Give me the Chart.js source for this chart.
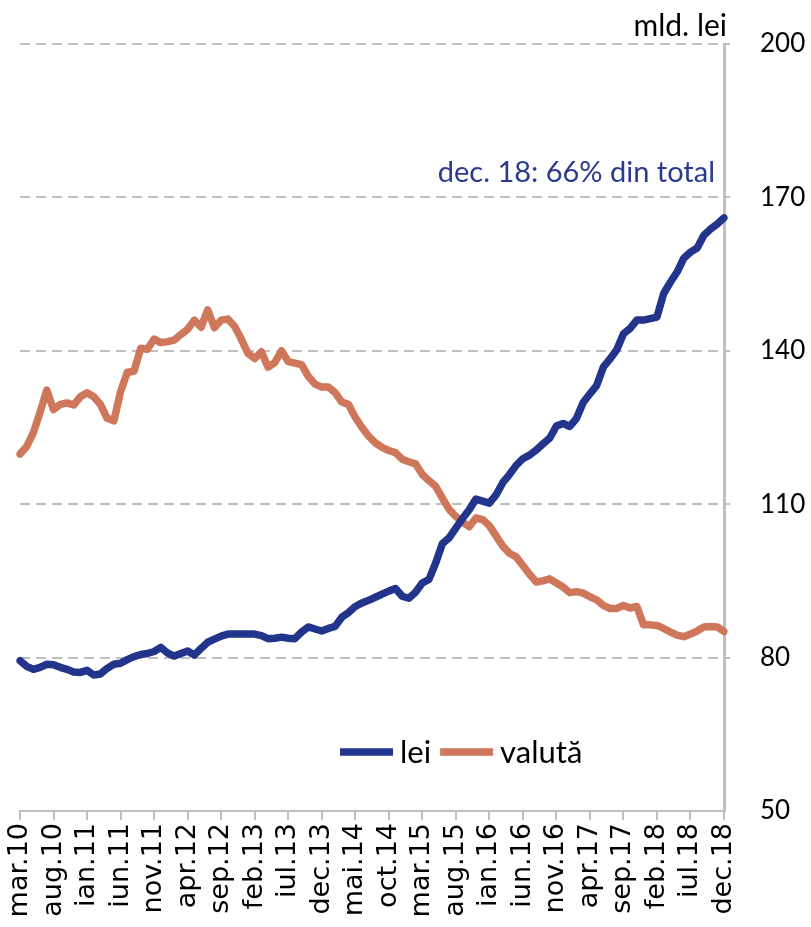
<!DOCTYPE html>
<html><head><meta charset="utf-8">
<script src="https://cdn.jsdelivr.net/npm/chart.js@4.4.1/dist/chart.umd.min.js"></script>
<style>html,body{margin:0;padding:0;background:#fff;} canvas{display:block;}</style>
</head><body>
<canvas id="c" width="811" height="927"></canvas>
<script>
const monthNames = ['ian','feb','mar','apr','mai','iun','iul','aug','sep','oct','nov','dec'];
const categories = [];
for (let y = 10; y <= 18; y++) {
  for (let m = 0; m < 12; m++) {
    if (y === 10 && m < 2) continue;
    categories.push(monthNames[m] + '.' + y);
  }
}
const lei = [79.4,78.3,77.7,78.1,78.7,78.6,78.1,77.7,77.2,77.1,
 77.5,76.6,76.8,77.9,78.7,78.9,79.6,80.2,80.6,80.8,
 81.2,82.0,80.9,80.3,80.8,81.3,80.5,81.8,83.0,83.6,
 84.2,84.6,84.6,84.6,84.6,84.6,84.3,83.7,83.8,84.0,
 83.8,83.7,85.0,86.0,85.6,85.2,85.7,86.1,87.9,88.8,
 90.0,90.7,91.2,91.8,92.4,93.0,93.5,92.0,91.6,92.8,
 94.6,95.3,98.5,102.3,103.4,105.3,107.2,108.9,111.0,110.6,
 110.2,111.8,114.2,115.8,117.6,118.9,119.6,120.6,121.8,122.9,
 125.3,125.8,125.2,126.8,129.9,131.6,133.2,136.8,138.4,140.2,
 143.3,144.4,146.0,146.0,146.3,146.6,151.2,153.4,155.4,158.1,
 159.3,160.1,162.6,163.8,164.8,166.0];
const valuta = [119.8,121.3,124.0,128.0,132.3,128.5,129.5,129.8,129.4,131.0,
 131.8,131.0,129.5,126.8,126.3,132.0,135.8,136.0,140.5,140.3,
 142.3,141.6,141.8,142.1,143.2,144.2,146.0,144.6,148.0,144.5,
 146.0,146.2,144.8,142.3,139.5,138.5,139.8,136.8,137.7,140.0,
 137.9,137.6,137.3,135.0,133.5,132.9,132.9,131.8,130.0,129.5,
 127.0,125.0,123.3,122.0,121.1,120.5,120.1,118.8,118.3,117.9,
 115.8,114.6,113.5,111.2,109.0,107.6,106.5,105.6,107.3,107.0,
 105.8,103.8,101.8,100.4,99.7,98.0,96.3,94.8,95.0,95.4,
 94.6,93.8,92.7,92.9,92.6,91.9,91.3,90.2,89.6,89.6,
 90.2,89.7,90.0,86.4,86.4,86.3,85.7,85.0,84.4,84.1,
 84.6,85.2,86.0,86.1,86.0,85.1];
const yTicks = [50, 80, 110, 140, 170, 200];
const seriesNames = ['lei', 'valută'];
const seriesColors = ['#22348B', '#CF775A'];
const unitLabel = 'mld. lei';
const noteText = 'dec. 18: 66% din total';
const labelEvery = 5;

const TEXT_FONT = 'Lato, "Open Sans", sans-serif';
const GRID = '#BFBFBF';

const overlay = {
  id: 'overlay',
  afterDraw(chart) {
    const ctx = chart.ctx, ca = chart.chartArea;
    ctx.save();
    ctx.textBaseline = 'alphabetic';
    ctx.font = '30px ' + TEXT_FONT;
    ctx.fillStyle = '#000';
    ctx.textAlign = 'right';
    ctx.fillText(unitLabel, ca.right + 3, 36);
    ctx.font = '29px ' + TEXT_FONT;
    ctx.fillStyle = '#2B3A8E';
    ctx.fillText(noteText, ca.right - 9, 182);
    // legend
    let x = 340;
    const y = 752;
    ctx.font = '31px ' + TEXT_FONT;
    ctx.textAlign = 'left';
    ctx.textBaseline = 'middle';
    chart.data.datasets.forEach((ds, i) => {
      ctx.strokeStyle = ds.borderColor;
      ctx.lineWidth = 7.5;
      ctx.lineCap = 'butt';
      ctx.beginPath(); ctx.moveTo(x, y); ctx.lineTo(x + 53, y); ctx.stroke();
      x += 60;
      ctx.fillStyle = '#000';
      ctx.fillText(ds.label, x, y + 1);
      x += ctx.measureText(ds.label).width + 9;
    });
    ctx.restore();
  }
};

new Chart(document.getElementById('c'), {
  type: 'line',
  data: {
    labels: categories,
    datasets: [
      { label: seriesNames[0], data: lei, borderColor: seriesColors[0], backgroundColor: seriesColors[0] },
      { label: seriesNames[1], data: valuta, borderColor: seriesColors[1], backgroundColor: seriesColors[1] }
    ]
  },
  options: {
    responsive: false,
    devicePixelRatio: 1,
    animation: false,
    layout: { padding: { left: 20, top: 44, right: 0, bottom: 0 } },
    elements: {
      line: { borderWidth: 7.5, tension: 0, borderJoinStyle: 'round', borderCapStyle: 'round' },
      point: { radius: 0 }
    },
    plugins: { legend: { display: false }, tooltip: { enabled: false }, title: { display: false } },
    scales: {
      x: {
        offset: false,
        afterFit: s => { s.height = 116; s.paddingLeft = 0; s.paddingRight = 0; },
        grid: {
          drawOnChartArea: false,
          drawTicks: true,
          tickLength: 9,
          lineWidth: 2,
          color: c => (c.index % labelEvery === 0 ? GRID : 'rgba(0,0,0,0)')
        },
        border: { display: true, color: GRID, width: 2 },
        ticks: {
          autoSkip: false,
          minRotation: 90,
          maxRotation: 90,
          padding: 3,
          color: '#000',
          font: { family: '"DejaVu Sans", sans-serif', size: 27 },
          callback: function (v, i) { return i % labelEvery === 0 ? this.getLabelForValue(v) : ''; }
        }
      },
      y: {
        position: 'right',
        min: 50,
        max: 200,
        afterFit: s => { s.width = 87; s.paddingTop = 0; s.paddingBottom = 0; },
        afterBuildTicks: s => { s.ticks = yTicks.map(v => ({ value: v })); },
        grid: {
          drawTicks: true,
          tickLength: 6,
          lineWidth: 2,
          color: c => (c.tick && c.tick.value === 50 ? 'rgba(0,0,0,0)' : GRID),
          tickBorderDash: [10, 6]
        },
        border: { display: true, color: GRID, width: 3, dash: [10, 6] },
        ticks: {
          padding: 30,
          color: '#000',
          font: { family: TEXT_FONT, size: 26 }
        }
      }
    }
  },
  plugins: [overlay]
});
</script>
</body></html>
